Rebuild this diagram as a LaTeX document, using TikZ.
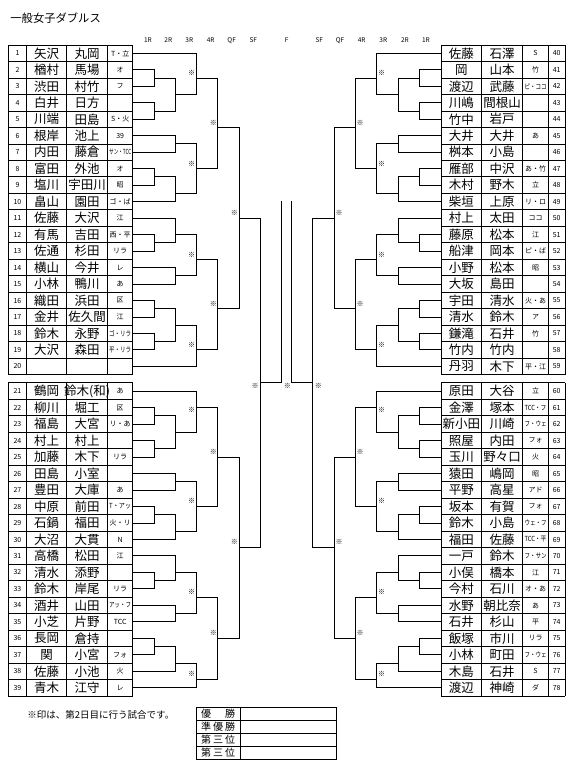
\documentclass[tikz,border=0pt]{standalone}
\usepackage{fontspec}
\newfontfamily\jp{Noto Sans CJK JP}
\newsavebox\clbx
\newcommand\club[1]{\sbox\clbx{#1}\ifdim\wd\clbx>22pt\resizebox{22pt}{\height}{\usebox\clbx}\else\usebox\clbx\fi}
\newcommand\Lrow[5]{%
 \node[numst] (n#1) at (17.5,#2) {#1};
 \node[namest] (a#1) at (46.7,#2) {#3};
 \node[namest] (b#1) at (87.2,#2) {#4};
 \node[clubst] (c#1) at (120.2,#2) {\club{#5}};}
\newcommand\Rrow[5]{%
 \node[numst] (n#1) at (556.7,#2) {#1};
 \node[namest] (a#1) at (461.3,#2) {#3};
 \node[namest] (b#1) at (502.2,#2) {#4};
 \node[clubst] (c#1) at (535.5,#2) {\club{#5}};}
\newcommand\halfbr{%
 \foreach \u in {3,5,7,9,15,17,23,25,31,33,35,37,44,46,48,50,56,58,64,66,72,74} \draw (132.7,\u) -- (154,\u);
 \foreach \u in {11,13,19,21,27,29,52,54,60,62,68,70,76} \draw (132.7,\u) -- (175.3,\u);
 \foreach \u in {1,39,42,78} \draw (132.7,\u) -- (196.7,\u);
 \foreach \a/\b/\o in {3/5/4,7/9/8,15/17/16,23/25/24,31/33/32,35/37/36,44/46/45,48/50/49,56/58/57,64/66/65,72/74/73} \draw (154,\a) -- (154,\b) (154,\o) -- (175.3,\o);
 \foreach \a/\b/\o in {4/8/6,11/13/12,16/19/18,21/24/23,27/29/28,32/36/34,45/49/47,52/54/53,57/60/59,62/65/64,68/70/69,73/76/75} \draw (175.3,\a) -- (175.3,\b) (175.3,\o) -- (196.7,\o);
 \foreach \a/\b/\o in {1/6/4,12/18/15,23/28/26,34/39/37,42/47/44,53/59/56,64/69/67,75/78/77} \draw (196.7,\a) -- (196.7,\b) (196.7,\o) -- (217.7,\o);
 \foreach \a/\b/\o in {4/15/10,26/37/32,44/56/50,67/77/72} \draw (217.7,\a) -- (217.7,\b) (217.7,\o) -- (239.3,\o);
 \foreach \a/\b/\o in {10/32/21,50/72/61} \draw (239.3,\a) -- (239.3,\b) (239.3,\o) -- (260.7,\o);
 \draw (260.7,21) -- (260.7,61) (260.7,41) -- (281.7,41) -- (281.7,19);
 \foreach \u in {3.42,14.47,25.51,36.43,44.32,55.36,66.41,76.36} \node[markst] at (191.7,\u) {※};
 \foreach \u in {9.49,31.46,49.42,71.38} \node[markst] at (213.3,\u) {※};
 \foreach \u in {20.41,60.34} \node[markst] at (234.3,\u) {※};
 \node[markst] at (255,41.37) {※};}
\begin{document}
\begin{tikzpicture}[x=1pt,y=-8.24pt,line width=0.9pt,
  namest/.style={font=\jp\fontsize{12.5}{12.5}\selectfont,inner sep=0pt},
  clubst/.style={font=\jp\fontsize{7}{7}\selectfont,inner sep=0pt},
  numst/.style={font=\jp\fontsize{7}{7}\selectfont,inner sep=0pt},
  markst/.style={font=\jp\bfseries\fontsize{7}{7}\selectfont,inner sep=0pt},
  roundst/.style={font=\jp\fontsize{6.5}{6.5}\selectfont,inner sep=0pt,text height=4.7pt,text depth=0pt},
  labst/.style={font=\jp\fontsize{10}{10}\selectfont,inner sep=0pt}]
\useasboundingbox (0,-5.4733) rectangle (577,88.823);
\fill[white] (0,-5.4733) rectangle (577,88.823);
% title
\node[font=\jp\fontsize{11.3}{12}\selectfont,anchor=west,inner sep=0pt] (title) at (10,-3.29) {一般女子ダブルス};
% round labels
\foreach \x/\t [count=\i] in {148/1R,168.3/2R,189.3/3R,210.7/4R,231.7/QF,253.3/SF,286.7/F,319.3/SF,340/QF,361.7/4R,383.3/3R,405/2R,426/1R}
  \node[roundst] (r\i) at (\x,-0.62) {\t};
% table grids
\foreach \x in {8.3,26.7,66.7,107.7,132.7,441,481.7,522.7,548.3,565} {\draw (\x,0) -- (\x,40); \draw (\x,41) -- (\x,79);}
\foreach \u in {0,2,...,40} {\draw (8.3,\u) -- (132.7,\u); \draw (441,\u) -- (565,\u);}
\foreach \u in {41,43,...,79} {\draw (8.3,\u) -- (132.7,\u); \draw (441,\u) -- (565,\u);}
% left entries
\Lrow{1}{1}{矢沢}{丸岡}{T・立}
\Lrow{2}{3}{楢村}{馬場}{オ}
\Lrow{3}{5}{渋田}{村竹}{フ}
\Lrow{4}{7}{白井}{日方}{}
\Lrow{5}{9}{川端}{田島}{S・火}
\Lrow{6}{11}{根岸}{池上}{39}
\Lrow{7}{13}{内田}{藤倉}{サン・TCC}
\Lrow{8}{15}{富田}{外池}{オ}
\Lrow{9}{17}{塩川}{宇田川}{昭}
\Lrow{10}{19}{畠山}{園田}{ゴ・ば}
\Lrow{11}{21}{佐藤}{大沢}{江}
\Lrow{12}{23}{有馬}{吉田}{西・平}
\Lrow{13}{25}{佐通}{杉田}{リラ}
\Lrow{14}{27}{横山}{今井}{レ}
\Lrow{15}{29}{小林}{鴨川}{あ}
\Lrow{16}{31}{織田}{浜田}{区}
\Lrow{17}{33}{金井}{佐久間}{江}
\Lrow{18}{35}{鈴木}{永野}{ゴ・リラ}
\Lrow{19}{37}{大沢}{森田}{平・リラ}
\Lrow{20}{39}{}{}{}
\Lrow{21}{42}{鶴岡}{鈴木(和)}{あ}
\Lrow{22}{44}{柳川}{堀工}{区}
\Lrow{23}{46}{福島}{大宮}{リ・あ}
\Lrow{24}{48}{村上}{村上}{}
\Lrow{25}{50}{加藤}{木下}{リラ}
\Lrow{26}{52}{田島}{小室}{}
\Lrow{27}{54}{豊田}{大庫}{あ}
\Lrow{28}{56}{中原}{前田}{T・アッ}
\Lrow{29}{58}{石鍋}{福田}{火・リ}
\Lrow{30}{60}{大沼}{大貫}{N}
\Lrow{31}{62}{高橋}{松田}{江}
\Lrow{32}{64}{清水}{添野}{}
\Lrow{33}{66}{鈴木}{岸尾}{リラ}
\Lrow{34}{68}{酒井}{山田}{アッ・フ}
\Lrow{35}{70}{小芝}{片野}{TCC}
\Lrow{36}{72}{長岡}{倉持}{}
\Lrow{37}{74}{関}{小宮}{フォ}
\Lrow{38}{76}{佐藤}{小池}{火}
\Lrow{39}{78}{青木}{江守}{レ}
% right entries
\Rrow{40}{1}{佐藤}{石澤}{S}
\Rrow{41}{3}{岡}{山本}{竹}
\Rrow{42}{5}{渡辺}{武藤}{ピ・ココ}
\Rrow{43}{7}{川嶋}{間根山}{}
\Rrow{44}{9}{竹中}{岩戸}{}
\Rrow{45}{11}{大井}{大井}{あ}
\Rrow{46}{13}{桝本}{小島}{}
\Rrow{47}{15}{雁部}{中沢}{あ・竹}
\Rrow{48}{17}{木村}{野木}{立}
\Rrow{49}{19}{柴垣}{上原}{リ・ロ}
\Rrow{50}{21}{村上}{太田}{ココ}
\Rrow{51}{23}{藤原}{松本}{江}
\Rrow{52}{25}{船津}{岡本}{ピ・ば}
\Rrow{53}{27}{小野}{松本}{昭}
\Rrow{54}{29}{大坂}{島田}{}
\Rrow{55}{31}{宇田}{清水}{火・あ}
\Rrow{56}{33}{清水}{鈴木}{ア}
\Rrow{57}{35}{鎌滝}{石井}{竹}
\Rrow{58}{37}{竹内}{竹内}{}
\Rrow{59}{39}{丹羽}{木下}{平・江}
\Rrow{60}{42}{原田}{大谷}{立}
\Rrow{61}{44}{金澤}{塚本}{TCC・フ}
\Rrow{62}{46}{新小田}{川崎}{フ・ウェ}
\Rrow{63}{48}{照屋}{内田}{フォ}
\Rrow{64}{50}{玉川}{野々口}{火}
\Rrow{65}{52}{猿田}{嶋岡}{昭}
\Rrow{66}{54}{平野}{高星}{アド}
\Rrow{67}{56}{坂本}{有賀}{フォ}
\Rrow{68}{58}{鈴木}{小島}{ウェ・フ}
\Rrow{69}{60}{福田}{佐藤}{TCC・平}
\Rrow{70}{62}{一戸}{鈴木}{フ・サン}
\Rrow{71}{64}{小俣}{橋本}{江}
\Rrow{72}{66}{今村}{石川}{オ・あ}
\Rrow{73}{68}{水野}{朝比奈}{あ}
\Rrow{74}{70}{石井}{杉山}{平}
\Rrow{75}{72}{飯塚}{市川}{リラ}
\Rrow{76}{74}{小林}{町田}{フ・ウェ}
\Rrow{77}{76}{木島}{石井}{S}
\Rrow{78}{78}{渡辺}{神崎}{ダ}
% bracket
\begin{scope}[line width=1pt,line cap=rect]
\halfbr
\begin{scope}[shift={(573.4,0)},xscale=-1]
\halfbr
\end{scope}
\end{scope}
\node[markst] (cm) at (287.3,41.37) {※};
% note
\node[font=\jp\fontsize{9.5}{10}\selectfont,anchor=west,inner sep=0pt] (note) at (27,81.3) {※印は、第2日目に行う試合です。};
% result table
\draw (196,80.36) rectangle (336,86.70);
\draw (240,80.36) -- (240,86.70);
\foreach \u in {81.96,83.53,85.12} \draw (196,\u) -- (336,\u);
\node[labst] (w1) at (218,81.16) {\makebox[34pt][s]{優\hfill 勝}};
\node[labst] (w2) at (218,82.75) {\makebox[34pt][s]{準\hfill 優\hfill 勝}};
\node[labst] (w3) at (218,84.33) {\makebox[34pt][s]{第\hfill 三\hfill 位}};
\node[labst] (w4) at (218,85.91) {\makebox[34pt][s]{第\hfill 三\hfill 位}};
\end{tikzpicture}
\end{document}
